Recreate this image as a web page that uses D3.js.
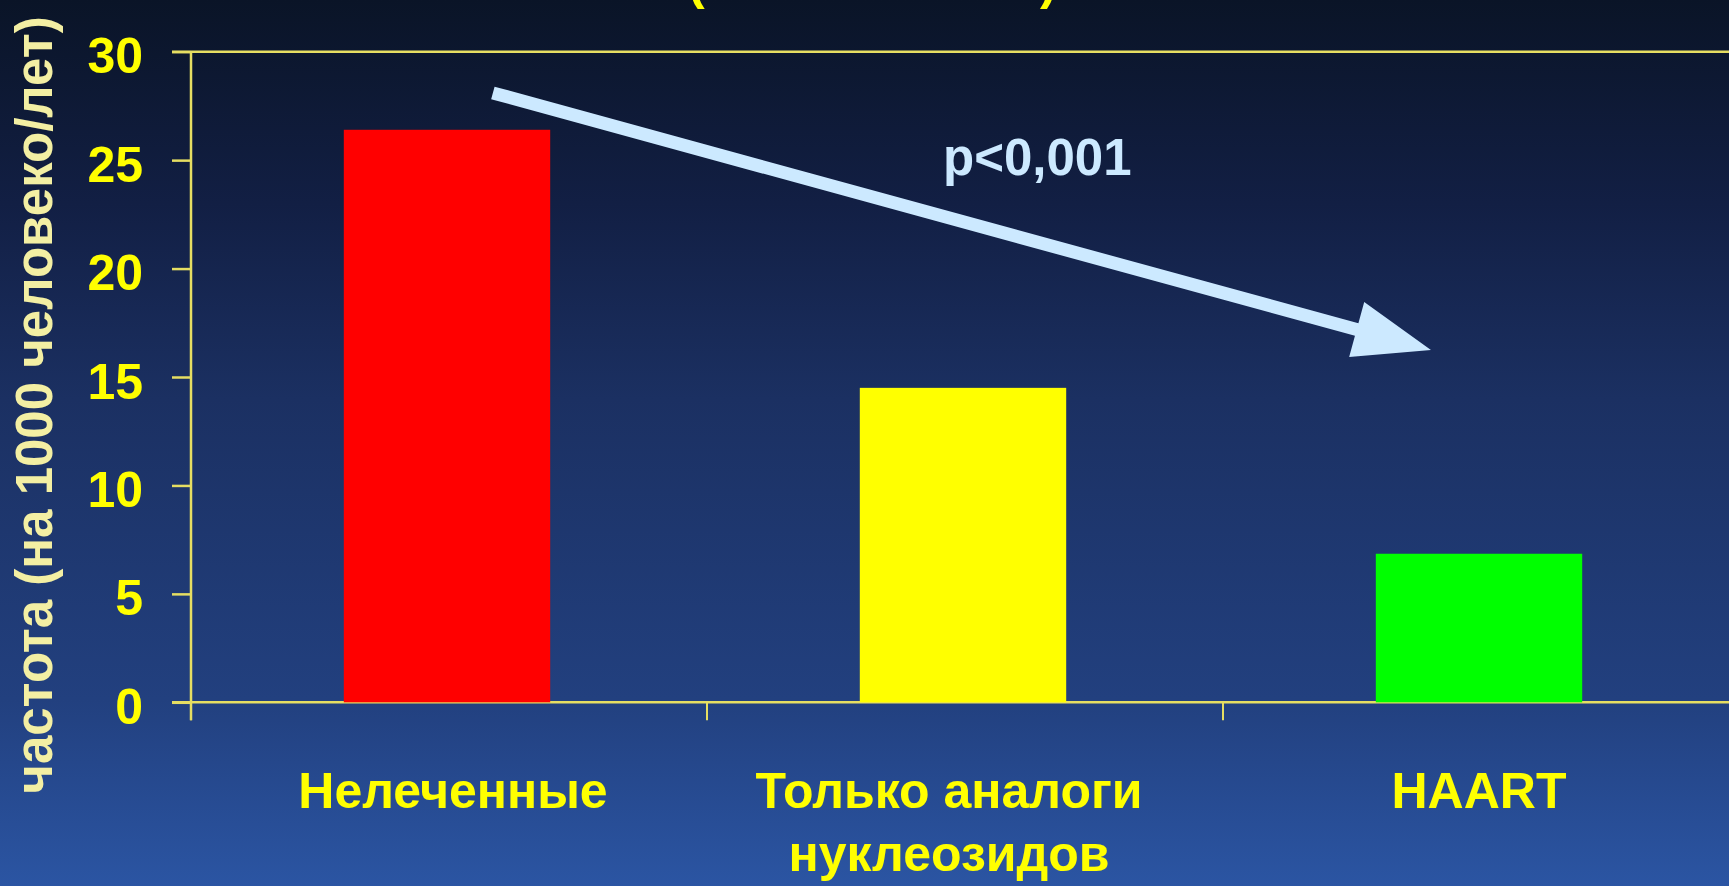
<!DOCTYPE html>
<html>
<head>
<meta charset="utf-8">
<script src="https://cdn.jsdelivr.net/npm/d3@7"></script>
<style>
  html, body { margin: 0; padding: 0; overflow: hidden; background: #0a1427; }
  svg { display: block; font-family: "Liberation Sans", Arial, sans-serif; font-weight: bold; }
</style>
</head>
<body>
<div id="chart"></div>
<script>
// data
const categories = ["Нелеченные", "Только аналоги нуклеозидов", "HAART"];
const labelLines = [["Нелеченные"], ["Только аналоги", "нуклеозидов"], ["HAART"]];
const rates = [26.4, 14.5, 6.85];
const barColors = ["#ff0000", "#ffff00", "#00ff00"];
const yTicks = [0, 5, 10, 15, 20, 25, 30];
const yTitle = "частота (на 1000 человеко/лет)";
const pLabel = "p<0,001";

const W = 1729, H = 886;
const plotLeft = 191, plotTop = 51.7, plotBottom = 702.3, band = 516;
// small horizontal nudges of the category labels, as on the slide
const labelShift = [4, -16, -2];

const svg = d3.select("#chart")
  .append("svg")
  .attr("width", W)
  .attr("height", H);

// slide background
const grad = svg.append("defs").append("linearGradient")
  .attr("id", "bg").attr("x1", 0).attr("y1", 0).attr("x2", 0).attr("y2", 1);
[[0, "#0a1427"], [0.23, "#121f44"], [0.45, "#1b3062"], [0.79, "#22407f"], [1, "#2b55a3"]]
  .forEach(s => grad.append("stop").attr("offset", s[0]).attr("stop-color", s[1]));
svg.append("rect").attr("width", W).attr("height", H).attr("fill", "url(#bg)");

// cut-off title, only the parentheses show
svg.append("text").attr("x", 688).attr("y", -1.5).attr("font-size", 50)
  .attr("fill", "#ffff00").text("(");
svg.append("text").attr("x", 1040).attr("y", -1.5).attr("font-size", 50)
  .attr("fill", "#ffff00").text(")");

const x = d3.scaleBand()
  .domain(categories)
  .range([plotLeft, plotLeft + band * categories.length])
  .padding(0);

const y = d3.scaleLinear()
  .domain([0, 30])
  .range([plotBottom, plotTop]);

const axisColor = "#e6de62";

// horizontal frame lines at 0 and 30
svg.append("g")
  .selectAll("line")
  .data([0, 30])
  .join("line")
  .attr("x1", plotLeft - 19)
  .attr("x2", W)
  .attr("y1", d => y(d))
  .attr("y2", d => y(d))
  .attr("stroke", axisColor)
  .attr("stroke-width", 2.5);

// bars
svg.append("g")
  .selectAll("rect")
  .data(rates)
  .join("rect")
  .attr("x", (d, i) => x(categories[i]) + x.bandwidth() * 0.3 - 2)
  .attr("width", x.bandwidth() * 0.4)
  .attr("y", d => y(d))
  .attr("height", d => y(0) - y(d))
  .attr("fill", (d, i) => barColors[i]);

// y axis
const yAxis = svg.append("g")
  .attr("transform", `translate(${plotLeft},0)`)
  .call(d3.axisLeft(y).tickValues(yTicks).tickSize(19).tickPadding(29).tickSizeOuter(0));
yAxis.select(".domain").remove();
yAxis.selectAll("line").attr("stroke", axisColor).attr("stroke-width", 2.5);
yAxis.selectAll("text")
  .attr("fill", "#ffff00")
  .attr("font-size", 50)
  .attr("font-family", "Liberation Sans, Arial, sans-serif")
  .attr("font-weight", "bold")
  .attr("dy", "0.42em");

svg.append("line")
  .attr("x1", plotLeft).attr("x2", plotLeft)
  .attr("y1", y(30)).attr("y2", plotBottom + 18)
  .attr("stroke", axisColor).attr("stroke-width", 2.5);

// category separators below the zero line
svg.append("g")
  .selectAll("line")
  .data(categories)
  .join("line")
  .attr("x1", d => x(d))
  .attr("x2", d => x(d))
  .attr("y1", plotBottom)
  .attr("y2", plotBottom + 18)
  .attr("stroke", axisColor)
  .attr("stroke-width", 2);

// category labels
svg.append("g")
  .selectAll("text")
  .data(labelLines)
  .join("text")
  .attr("text-anchor", "middle")
  .attr("font-size", 50)
  .attr("fill", "#ffff00")
  .each(function (lines, i) {
    d3.select(this).selectAll("tspan")
      .data(lines)
      .join("tspan")
      .attr("x", x(categories[i]) + x.bandwidth() / 2 + labelShift[i])
      .attr("y", (l, j) => 808 + j * 63)
      .text(l => l);
  });

// y title
svg.append("text")
  .attr("transform", "translate(52,405) rotate(-90)")
  .attr("text-anchor", "middle")
  .attr("font-size", 51)
  .attr("fill", "#f3efa3")
  .text(yTitle);

// trend arrow
const trendFrom = { cat: categories[0], pos: 0.585, value: 28.1 };
const trendTo = { cat: categories[2], pos: 0.403, value: 16.25 };
const ax0 = x(trendFrom.cat) + trendFrom.pos * x.bandwidth(), ay0 = y(trendFrom.value);
const ax1 = x(trendTo.cat) + trendTo.pos * x.bandwidth(), ay1 = y(trendTo.value);
const len = Math.hypot(ax1 - ax0, ay1 - ay0);
const ux = (ax1 - ax0) / len, uy = (ay1 - ay0) / len;
const headLen = 77, headHalf = 28.5, shaftHalf = 6.5;
const bx = ax1 - ux * headLen, by = ay1 - uy * headLen;
const pts = [
  [ax0 + uy * shaftHalf, ay0 - ux * shaftHalf],
  [bx + uy * shaftHalf, by - ux * shaftHalf],
  [bx + uy * headHalf, by - ux * headHalf],
  [ax1, ay1],
  [bx - uy * headHalf, by + ux * headHalf],
  [bx - uy * shaftHalf, by + ux * shaftHalf],
  [ax0 - uy * shaftHalf, ay0 + ux * shaftHalf]
];
svg.append("path")
  .attr("d", d3.line()(pts) + "Z")
  .attr("fill", "#cce9ff");

svg.append("text")
  .attr("x", 943)
  .attr("y", 175)
  .attr("font-size", 51)
  .attr("fill", "#cce9ff")
  .text(pLabel);
</script>
</body>
</html>
